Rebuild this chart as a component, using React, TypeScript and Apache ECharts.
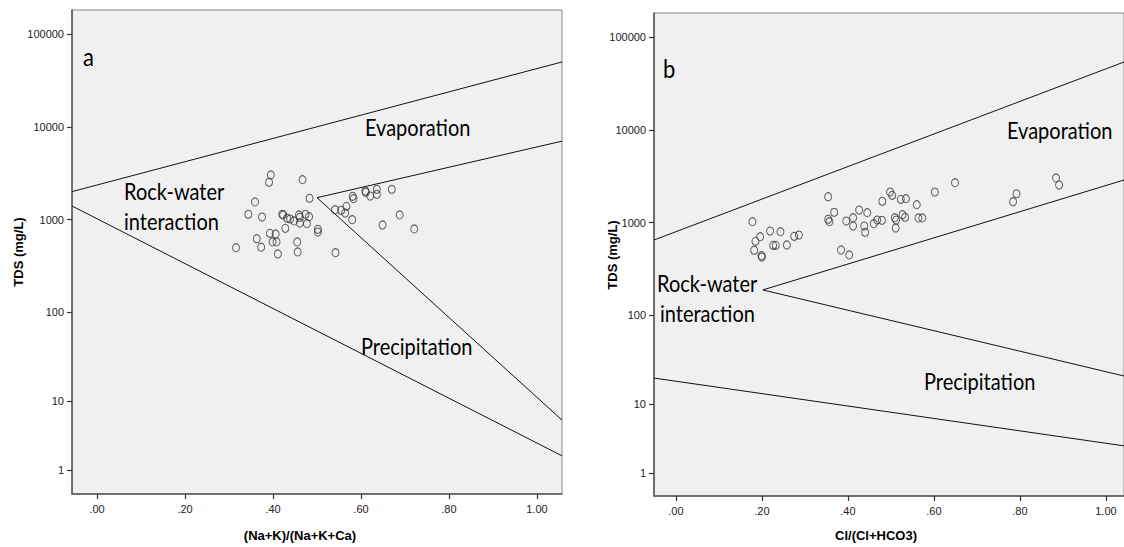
import React, { useEffect, useRef } from "react";
import * as echarts from "echarts";

// ---------- data (TDS in mg/L) ----------
const TDS_TICKS = [1, 10, 100, 1000, 10000, 100000];
const RATIO_TICKS = [0, 0.2, 0.4, 0.6, 0.8, 1.0];
const RATIO_LABELS = [".00", ".20", ".40", ".60", ".80", "1.00"];

// panel a: (Na+K)/(Na+K+Ca) vs TDS
const A_X = [0.395, 0.391, 0.467, 0.483, 0.359, 0.344, 0.375, 0.421, 0.423, 0.432, 0.439, 0.448, 0.459, 0.461, 0.474, 0.482, 0.461, 0.477, 0.428, 0.502, 0.502, 0.393, 0.406, 0.363, 0.399, 0.408, 0.455, 0.373, 0.316, 0.411, 0.456, 0.542, 0.541, 0.555, 0.567, 0.564, 0.58, 0.581, 0.583, 0.61, 0.611, 0.621, 0.636, 0.636, 0.67, 0.688, 0.649, 0.721];
const A_TDS = [3027, 2523, 2692, 1698, 1549, 1140, 1066, 1140, 1122, 1032, 1014, 966, 1122, 1059, 1140, 1074, 918, 903, 804, 785, 734, 710, 699, 621, 573, 573, 573, 503, 497, 425, 447, 439, 1279, 1258, 1389, 1177, 997, 1781, 1678, 2032, 1967, 1794, 2123, 1875, 2123, 1122, 874, 792];

// panel b: Cl/(Cl+HCO3) vs TDS
const B_X = [0.178, 0.185, 0.196, 0.182, 0.199, 0.2, 0.219, 0.243, 0.226, 0.232, 0.258, 0.275, 0.286, 0.354, 0.368, 0.354, 0.357, 0.396, 0.384, 0.403, 0.412, 0.412, 0.426, 0.445, 0.438, 0.44, 0.46, 0.468, 0.479, 0.48, 0.498, 0.503, 0.509, 0.512, 0.511, 0.523, 0.535, 0.527, 0.533, 0.56, 0.564, 0.573, 0.602, 0.649, 0.792, 0.784, 0.884, 0.891];
const B_TDS = [1022, 627, 704, 502, 439, 425, 810, 797, 568, 568, 573, 710, 734, 1900, 1290, 1085, 1022, 1040, 506, 447, 1129, 918, 1367, 1279, 918, 785, 972, 1066, 1059, 1698, 2137, 1967, 1129, 1066, 874, 1781, 1810, 1215, 1140, 1559, 1122, 1122, 2137, 2692, 2046, 1678, 3027, 2541];

// Gibbs boundary lines: [x1, x2] and [tds1, tds2]
const A_UPPER_X = [-0.057, 1.057];
const A_UPPER_TDS = [2000, 50000];
const A_EVAP_X = [0.5, 1.057];
const A_EVAP_TDS = [1720, 7000];
const A_PREC_X = [0.5, 1.057];
const A_PREC_TDS = [1720, 5.9];
const A_LOWER_X = [-0.057, 1.057];
const A_LOWER_TDS = [1400, 1.84];

const B_UPPER_X = [-0.051, 1.042];
const B_UPPER_TDS = [648, 53800];
const B_EVAP_X = [0.202, 1.042];
const B_EVAP_TDS = [187, 2876];
const B_PREC_X = [0.202, 1.042];
const B_PREC_TDS = [187, 21.2];
const B_LOWER_X = [-0.051, 1.042];
const B_LOWER_TDS = [20.1, 2.92];

// ---------- helpers ----------
const f = (v: number) => Math.log10(1 + v); // SPSS "safe log" scale
const inv = (t: number) => Math.round(Math.pow(10, t) - 1);

const pts = (xs: number[], ys: number[]) => xs.map((x, i) => [x, f(ys[i])]);

const lineSeries = (xs: number[], ys: number[], idx: number) => ({
  type: "line",
  xAxisIndex: idx,
  yAxisIndex: idx,
  data: pts(xs, ys),
  symbol: "none",
  silent: true,
  lineStyle: { color: "#111", width: 1 },
  z: 2,
});

const scatterSeries = (xs: number[], ys: number[], idx: number) => ({
  type: "scatter",
  xAxisIndex: idx,
  yAxisIndex: idx,
  data: pts(xs, ys),
  symbol: "circle",
  symbolSize: [7, 8],
  itemStyle: { color: "rgba(0,0,0,0)", borderColor: "#333", borderWidth: 1 },
  z: 3,
});

const tickFont = { fontFamily: "Liberation Sans, Arial, sans-serif", fontSize: 11, color: "#222" };

const xAxis = (idx: number, min: number, max: number) => ({
  type: "value",
  gridIndex: idx,
  min,
  max,
  axisLine: { show: true, onZero: false, lineStyle: { color: "#555", width: 1.5 } },
  axisTick: { show: true, length: 5, customValues: RATIO_TICKS, lineStyle: { color: "#333", width: 1.2 } },
  axisLabel: {
    customValues: RATIO_TICKS,
    margin: 9,
    ...tickFont,
    formatter: (v: number) => {
      const i = RATIO_TICKS.findIndex((t) => Math.abs(t - v) < 1e-6);
      return i >= 0 ? RATIO_LABELS[i] : "";
    },
  },
  splitLine: { show: false },
});

const yAxis = (idx: number, min: number, max: number) => ({
  type: "value",
  gridIndex: idx,
  min,
  max,
  axisLine: { show: true, onZero: false, lineStyle: { color: "#555", width: 1.5 } },
  axisTick: { show: true, length: 5, customValues: TDS_TICKS.map(f), lineStyle: { color: "#333", width: 1.2 } },
  axisLabel: {
    customValues: TDS_TICKS.map(f),
    margin: 8,
    ...tickFont,
    formatter: (v: number) => String(inv(v)),
  },
  splitLine: { show: false },
});

const regionFont = "Lato, 'Open Sans', sans-serif";
const label = (text: string, x: number, y: number, size = 20) => ({
  type: "text",
  x,
  y,
  scaleY: 1.15,
  style: { text, fill: "#000", font: `${size}px ${regionFont}`, align: "left", verticalAlign: "middle" },
  z: 10,
});

const axisName = (text: string, x: number, y: number, vertical: boolean) => ({
  type: "text",
  x,
  y,
  rotation: vertical ? Math.PI / 2 : 0,
  style: {
    text,
    fill: "#000",
    font: "bold 13px 'Liberation Sans', Arial, sans-serif",
    align: "center",
    verticalAlign: "middle",
  },
  z: 10,
});

export default function App() {
  const ref = useRef<HTMLDivElement>(null);
  useEffect(() => {
    if (!ref.current) return;
    const chart = echarts.init(ref.current, undefined, { renderer: "svg" });
    chart.setOption({
      animation: false,
      backgroundColor: "#ffffff",
      grid: [
        { left: 72, top: 10, width: 490, height: 484, show: true, backgroundColor: "#f0f0f0", borderColor: "#888", borderWidth: 1 },
        { left: 654, top: 13, width: 470, height: 483, show: true, backgroundColor: "#f0f0f0", borderColor: "#888", borderWidth: 1 },
      ],
      xAxis: [xAxis(0, -0.057, 1.057), xAxis(1, -0.051, 1.042)],
      yAxis: [yAxis(0, 0.042, 5.259), yAxis(1, 0.053, 5.259)],
      series: [
        lineSeries(A_UPPER_X, A_UPPER_TDS, 0),
        lineSeries(A_EVAP_X, A_EVAP_TDS, 0),
        lineSeries(A_PREC_X, A_PREC_TDS, 0),
        lineSeries(A_LOWER_X, A_LOWER_TDS, 0),
        scatterSeries(A_X, A_TDS, 0),
        lineSeries(B_UPPER_X, B_UPPER_TDS, 1),
        lineSeries(B_EVAP_X, B_EVAP_TDS, 1),
        lineSeries(B_PREC_X, B_PREC_TDS, 1),
        lineSeries(B_LOWER_X, B_LOWER_TDS, 1),
        scatterSeries(B_X, B_TDS, 1),
      ],
      graphic: [
        label("a", 83, 56, 22),
        label("Evaporation", 365, 127),
        label("Rock-water", 124, 191),
        label("interaction", 124, 221),
        label("Precipitation", 361, 346),
        label("b", 663, 68, 22),
        label("Evaporation", 1007, 130),
        label("Rock-water", 657, 283),
        label("interaction", 660, 313),
        label("Precipitation", 924, 381),
        axisName("TDS (mg/L)", 18, 252, true),
        axisName("TDS (mg/L)", 612, 255, true),
        axisName("(Na+K)/(Na+K+Ca)", 300, 535, false),
        axisName("Cl/(Cl+HCO3)", 876, 535, false),
      ],
    });
    return () => chart.dispose();
  }, []);
  return (
    <div
      ref={ref}
      style={{ position: "fixed", left: 0, top: 0, width: 1124, height: 547, background: "#fff" }}
    />
  );
}
